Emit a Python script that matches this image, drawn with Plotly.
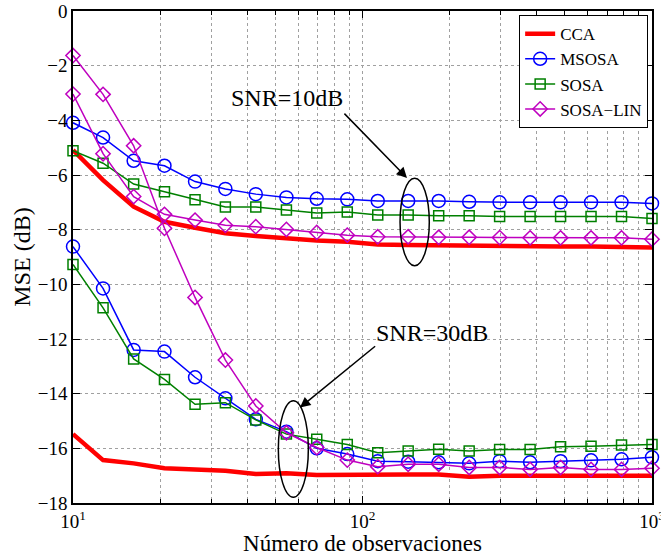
import numpy as np
import plotly.graph_objects as go

# ---- data ----
n_obs = [10, 12.7, 16.2, 20.7, 26.4, 33.6, 42.8, 54.6, 69.5, 88.6,
         112.9, 143.8, 183.3, 233.6, 297.6, 379.3, 483.3, 615.8, 784.8, 1000]

cca_10 = [-5.09, -6.19, -7.16, -7.71, -7.93, -8.13, -8.23, -8.33, -8.40, -8.44,
          -8.54, -8.56, -8.58, -8.59, -8.60, -8.62, -8.62, -8.62, -8.62, -8.65]
msosa_10 = [-4.09, -4.63, -5.48, -5.66, -6.24, -6.51, -6.70, -6.82, -6.87, -6.89,
            -6.95, -6.95, -6.95, -6.98, -7.00, -7.00, -7.00, -7.00, -7.00, -7.04]
sosa_10 = [-5.11, -5.57, -6.33, -6.61, -6.91, -7.17, -7.17, -7.28, -7.39, -7.35,
           -7.46, -7.46, -7.49, -7.49, -7.52, -7.52, -7.52, -7.52, -7.52, -7.59]
lin_10 = [-3.04, -5.22, -6.79, -7.44, -7.65, -7.84, -7.89, -7.99, -8.10, -8.20,
          -8.26, -8.26, -8.28, -8.28, -8.29, -8.30, -8.30, -8.30, -8.30, -8.35]

cca_30 = [-15.48, -16.43, -16.55, -16.73, -16.77, -16.82, -16.94, -16.91, -16.98, -16.96,
          -16.98, -16.96, -16.96, -17.04, -17.00, -17.00, -17.00, -17.00, -17.00, -17.00]
msosa_30 = [-8.62, -10.15, -12.40, -12.46, -13.40, -14.17, -14.94, -15.39, -16.00, -16.21,
            -16.47, -16.49, -16.51, -16.55, -16.47, -16.51, -16.47, -16.44, -16.40, -16.33]
sosa_30 = [-9.27, -10.86, -12.73, -13.48, -14.39, -14.33, -14.96, -15.48, -15.67, -15.86,
           -16.16, -16.10, -16.03, -16.10, -16.04, -16.04, -15.94, -15.92, -15.88, -15.86]
lin_30 = [-1.63, -3.05, -4.93, -7.95, -10.48, -12.77, -14.45, -15.43, -15.97, -16.43,
          -16.67, -16.58, -16.58, -16.70, -16.70, -16.77, -16.70, -16.77, -16.77, -16.73]

series_names = ["CCA", "MSOSA", "SOSA", "SOSA\u2212LIN"]
y_ticks = [-18, -16, -14, -12, -10, -8, -6, -4, -2, 0]
x_ticks = [10, 100, 1000]
x_tick_text = ["10<sup>1</sup>", "10<sup>2</sup>", "10<sup>3</sup>"]
x_minor_ticks = [20, 30, 40, 50, 60, 70, 80, 90, 200, 300, 400, 500, 600, 700, 800, 900]

FONT = "Liberation Serif, Times New Roman, serif"

styles = {
    "CCA": dict(color="#ff0000", width=4.5, symbol=None, size=0),
    "MSOSA": dict(color="#0000ff", width=1.5, symbol="circle-open", size=13),
    "SOSA": dict(color="#008000", width=1.5, symbol="square-open", size=10),
    "SOSA\u2212LIN": dict(color="#bf00bf", width=1.5, symbol="diamond-open", size=11),
}

fig = go.Figure()
for group, first in (([cca_10, msosa_10, sosa_10, lin_10], True),
                     ([cca_30, msosa_30, sosa_30, lin_30], False)):
    for name, vals in zip(series_names, group):
        st = styles[name]
        if st["symbol"] is None:
            fig.add_trace(go.Scatter(x=n_obs, y=vals, mode="lines", name=name,
                                     legendgroup=name, showlegend=first, cliponaxis=False,
                                     line=dict(color=st["color"], width=st["width"])))
        else:
            fig.add_trace(go.Scatter(x=n_obs, y=vals, mode="lines+markers", name=name,
                                     legendgroup=name, showlegend=first, cliponaxis=False,
                                     line=dict(color=st["color"], width=st["width"]),
                                     marker=dict(symbol=st["symbol"], size=st["size"],
                                                 color=st["color"],
                                                 line=dict(color=st["color"], width=1.5))))

grid_col = "#a0a0a0"
axis_common = dict(showline=True, linecolor="black", linewidth=1.5, mirror="ticks",
                   ticks="inside", ticklen=7, tickcolor="black", tickwidth=1,
                   showgrid=True, gridcolor=grid_col, griddash="dot", gridwidth=1,
                   zeroline=False, automargin=False, ticklabeloverflow="allow",
                   tickfont=dict(family=FONT, size=19, color="black"))

fig.update_xaxes(type="log", range=[1, 3], tickmode="array", tickvals=x_ticks,
                 ticktext=x_tick_text,
                 minor=dict(ticks="inside", ticklen=4, tickcolor="black",
                            tickmode="array", tickvals=x_minor_ticks,
                            showgrid=True, gridcolor=grid_col, griddash="dot", gridwidth=1),
                 title=dict(text="Número de observaciones", standoff=0,
                            font=dict(family=FONT, size=23, color="black")),
                 **axis_common)
fig.update_yaxes(range=[-18, 0], tickvals=y_ticks,
                 title=dict(text="MSE (dB)", standoff=0,
                            font=dict(family=FONT, size=24, color="black")),
                 **axis_common)

# annotations: ellipses, arrows and labels
fig.add_shape(type="circle", xref="x", yref="y", x0=134.8, x1=170.1, y0=-6.12, y1=-9.32,
              line=dict(color="black", width=1.5))
fig.add_shape(type="circle", xref="x", yref="y", x0=51.2, x1=65.0, y0=-14.26, y1=-17.79,
              line=dict(color="black", width=1.5))

for (hx, hy, tx, ty) in ((142.5, -6.11, 85.6, -3.70), (60.8, -14.51, 111.9, -12.22)):
    fig.add_annotation(x=np.log10(hx), y=hy, ax=np.log10(tx), ay=ty, xref="x", yref="y",
                       axref="x", ayref="y", text="", showarrow=True, arrowhead=2,
                       arrowsize=1.4, arrowwidth=1.5, arrowcolor="black")

fig.add_annotation(x=np.log10(54.9), y=-3.18, xref="x", yref="y", text="SNR=10dB",
                   showarrow=False, font=dict(family=FONT, size=24, color="black"))
fig.add_annotation(x=np.log10(173.8), y=-11.78, xref="x", yref="y", text="SNR=30dB",
                   showarrow=False, font=dict(family=FONT, size=24, color="black"))

fig.update_layout(
    width=661, height=556,
    margin=dict(l=73, r=9, t=11, b=53),
    paper_bgcolor="white", plot_bgcolor="white",
    font=dict(family=FONT, color="black"),
    legend=dict(x=0.993, y=0.992, xanchor="right", yanchor="top",
                bgcolor="white", bordercolor="black", borderwidth=1.2,
                font=dict(family=FONT, size=17, color="black"),
                tracegroupgap=0, itemwidth=30),
    showlegend=True,
)

fig.write_html("out.html")
